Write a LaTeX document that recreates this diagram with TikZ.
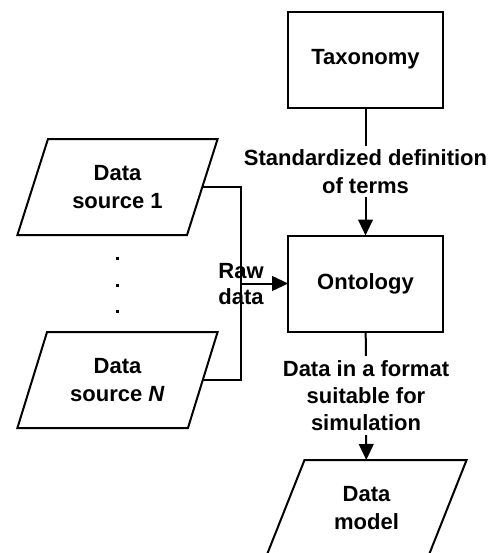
\documentclass[tikz,border=0pt]{standalone}
\usepackage{fontspec}
\setmainfont{Liberation Sans}
\usetikzlibrary{shapes.geometric,arrows.meta}

\begin{document}
\begin{tikzpicture}[x=0.75pt,y=-0.75pt,line width=1.5pt,
                    font=\fontsize{16.5}{20.5}\selectfont\bfseries]
                \tikzstyle{box}=[rectangle,draw=black,fill=white,minimum width=116pt,minimum height=72pt,inner sep=0pt,outer sep=0pt]
                \tikzstyle{datanode}=[trapezium,trapezium left angle=65,trapezium right angle=115,trapezium stretches,draw=black,fill=white,minimum width=150.75pt,minimum height=72pt,inner sep=0pt,outer sep=0pt,align=center]
                \tikzstyle{flowlabel}=[fill=white,align=center,inner xsep=0pt,inner ysep=3pt]
                \tikzstyle{flow}=[-{Triangle[length=12pt,width=11pt]}]
                \useasboundingbox (0,0) rectangle (496,553);

                    \node[box] (Tax) at (365.5,59.5) {Taxonomy};
                    \node[box] (Ont) at (365.5,283.5) {Ontology};
                    \node[datanode] (Src-1) at (117.5,187) {Data\\source 1};
                    \node[datanode] (Src-N) at (117.5,380) {Data\\source \textit{N}};
                    \node[datanode] (Model) at (366.5,508) {Data\\model};

                    \draw[flow] (Tax) -- node[flowlabel] (Terms) {Standardized definition\\of terms} (Ont);
                    \draw[flow] (Ont) -- node[flowlabel] (Format) {Data in a format\\suitable for\\simulation} (Model);

                    % inputs joined into one arrow
                    \coordinate (Join) at (241,283.5);
                    \draw (Src-1.east) -| (Join) |- (Src-N.east);
                    \draw[flow] (Join) -- (Ont.west);
                    \node[align=center] (Raw) at (241,284) {Raw\\[-1pt]data};

                    \foreach \y in {258, 285, 311}
                        \fill [black] (115.5,\y-1.5) rectangle +(3.5,3.5);
            \end{tikzpicture}
\end{document}
